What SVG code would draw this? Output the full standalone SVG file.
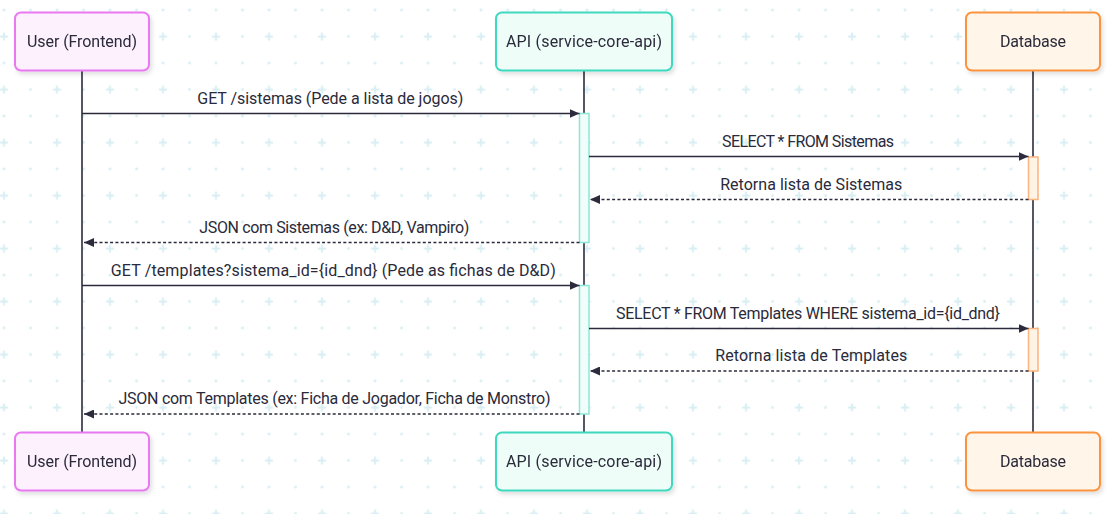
<svg xmlns="http://www.w3.org/2000/svg" width="1112" height="514" viewBox="0 0 1112 514">
<style>
  text { font-family: Roboto, "Liberation Sans", sans-serif; font-size: 16px; fill: #2a2a3a; text-anchor: middle; }
  .lifeline { stroke: #2b2b3d; stroke-width: 1.6; }
  .msg { stroke: #2b2b3d; stroke-width: 1.6; fill: none; }
  .dash { stroke-dasharray: 3 2.3; }
  .user { fill: #fdf1fe; stroke: #e879f0; stroke-width: 2; }
  .api { fill: #effdf9; stroke: #3fd9bf; stroke-width: 2; }
  .db { fill: #fff5e8; stroke: #fb9440; stroke-width: 2; }
  .act-api { fill: #f0fdfa; stroke: #8ee6d6; stroke-width: 1.5; }
  .act-db { fill: #fff3e5; stroke: #fdb37c; stroke-width: 1.5; }
</style>
<defs>
  <pattern id="grid" patternUnits="userSpaceOnUse" x="-9.25" y="-3.25" width="53" height="53">
    <g fill="#d8eef3">
      <circle cx="13.25" cy="13.25" r="1.4"/>
      <circle cx="39.75" cy="13.25" r="1.4"/>
      <circle cx="39.75" cy="39.75" r="1.4"/>
    </g>
    <path d="M9.25 39.75 H17.25 M13.25 35.75 V43.75" stroke="#d8eef3" stroke-width="2"/>
  </pattern>
  <filter id="shadow" x="-10%" y="-10%" width="130%" height="140%">
    <feDropShadow dx="2" dy="3" stdDeviation="2" flood-color="#000" flood-opacity="0.12"/>
  </filter>
  <marker id="arrow" markerUnits="userSpaceOnUse" markerWidth="11" markerHeight="9" refX="10" refY="4.5" orient="auto">
    <path d="M0,0 L10,4.5 L0,9 z" fill="#2b2b3d"/>
  </marker>
</defs>
<rect width="1112" height="514" fill="#ffffff"/>
<rect width="1112" height="514" fill="url(#grid)"/>

<g id="lifelines">
  <line class="lifeline" x1="82" y1="71" x2="82" y2="433"/>
  <line class="lifeline" x1="584" y1="71" x2="584" y2="433"/>
  <line class="lifeline" x1="1033" y1="71" x2="1033" y2="433"/>
</g>

<g id="activations">
  <rect class="act-api" x="579.5" y="113.5" width="9.5" height="129"/>
  <rect class="act-api" x="579.5" y="285.5" width="9.5" height="128.5"/>
  <rect class="act-db" x="1028.5" y="157" width="9.5" height="42.5"/>
  <rect class="act-db" x="1028.5" y="328.5" width="9.5" height="42.5"/>
</g>

<g id="participant-user-top" filter="url(#shadow)">
  <rect class="user" x="15" y="12.5" width="134" height="58" rx="6"/>
  <text x="82" y="47" textLength="110" lengthAdjust="spacing">User (Frontend)</text>
</g>
<g id="participant-api-top" filter="url(#shadow)">
  <rect class="api" x="496" y="12.5" width="176" height="58" rx="6"/>
  <text x="584" y="47" textLength="156" lengthAdjust="spacing">API (service-core-api)</text>
</g>
<g id="participant-db-top" filter="url(#shadow)">
  <rect class="db" x="966" y="12.5" width="134" height="58" rx="6"/>
  <text x="1033" y="47" textLength="66" lengthAdjust="spacing">Database</text>
</g>

<g id="participant-user-bottom" filter="url(#shadow)">
  <rect class="user" x="15" y="432.5" width="134" height="58" rx="6"/>
  <text x="82" y="467" textLength="110" lengthAdjust="spacing">User (Frontend)</text>
</g>
<g id="participant-api-bottom" filter="url(#shadow)">
  <rect class="api" x="496" y="432.5" width="176" height="58" rx="6"/>
  <text x="584" y="467" textLength="156" lengthAdjust="spacing">API (service-core-api)</text>
</g>
<g id="participant-db-bottom" filter="url(#shadow)">
  <rect class="db" x="966" y="432.5" width="134" height="58" rx="6"/>
  <text x="1033" y="467" textLength="66" lengthAdjust="spacing">Database</text>
</g>

<g id="connectors">
  <line class="msg" x1="82" y1="113.5" x2="579.5" y2="113.5" marker-end="url(#arrow)"/>
  <line class="msg" x1="589" y1="156.5" x2="1028.5" y2="156.5" marker-end="url(#arrow)"/>
  <line class="msg dash" x1="1028.5" y1="199.5" x2="590" y2="199.5" marker-end="url(#arrow)"/>
  <line class="msg dash" x1="579.5" y1="242.5" x2="84" y2="242.5" marker-end="url(#arrow)"/>
  <line class="msg" x1="82" y1="285.5" x2="579.5" y2="285.5" marker-end="url(#arrow)"/>
  <line class="msg" x1="589" y1="328.5" x2="1028.5" y2="328.5" marker-end="url(#arrow)"/>
  <line class="msg dash" x1="1028.5" y1="371" x2="590" y2="371" marker-end="url(#arrow)"/>
  <line class="msg dash" x1="579.5" y1="414" x2="84" y2="414" marker-end="url(#arrow)"/>
</g>

<g id="labels">
  <text x="330.3" y="103.5" textLength="266" lengthAdjust="spacing">GET /sistemas (Pede a lista de jogos)</text>
  <text x="808" y="146.5" textLength="172" lengthAdjust="spacing">SELECT * FROM Sistemas</text>
  <text x="811.2" y="189.5" textLength="182" lengthAdjust="spacing">Retorna lista de Sistemas</text>
  <text x="334.3" y="232.5" textLength="270" lengthAdjust="spacing">JSON com Sistemas (ex: D&amp;D, Vampiro)</text>
  <text x="333.3" y="275.5" textLength="445" lengthAdjust="spacing">GET /templates?sistema_id={id_dnd} (Pede as fichas de D&amp;D)</text>
  <text x="808" y="318.5" textLength="384" lengthAdjust="spacing">SELECT * FROM Templates WHERE sistema_id={id_dnd}</text>
  <text x="811.3" y="361" textLength="192" lengthAdjust="spacing">Retorna lista de Templates</text>
  <text x="334.5" y="404" textLength="432" lengthAdjust="spacing">JSON com Templates (ex: Ficha de Jogador, Ficha de Monstro)</text>
</g>
</svg>
